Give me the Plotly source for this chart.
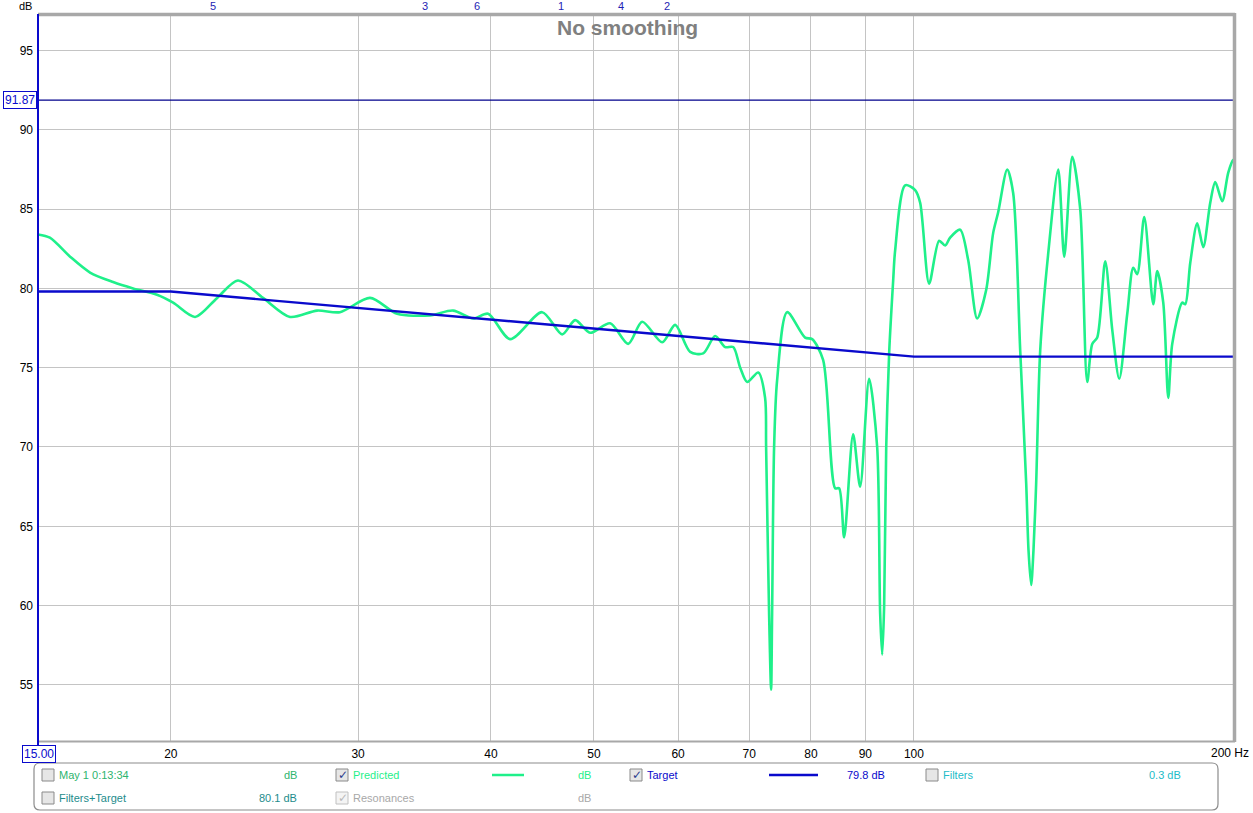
import math
import plotly.graph_objects as go

# ---------------- data ----------------
freq_hz = [15.0, 15.39, 16.08, 16.79, 17.65, 18.43, 19.41, 20.10, 21.08, 22.11, 23.13, 24.42,
           25.89, 27.45, 28.85, 30.79, 32.65, 35.06, 36.86, 38.49, 39.76, 41.70, 44.70, 46.68,
           48.01, 49.59, 51.79, 53.85, 55.51, 57.97, 59.62, 61.59, 63.35, 65.02, 66.44, 67.61,
           68.64, 69.69, 71.38, 72.44, 72.60, 73.07, 73.39, 73.55, 73.87, 74.35, 75.98, 79.0,
           80.21, 82.14, 84.31, 85.04, 85.97, 87.66, 89.0, 90.75, 92.34, 92.94, 93.35, 93.75,
           94.17, 94.78, 95.60, 96.01, 98.11, 100.26, 101.35, 103.34, 105.6, 106.99, 108.15,
           110.52, 112.45, 114.67, 116.93, 118.72, 120.01, 122.38, 123.98, 125.87, 127.52,
           128.16, 128.9, 129.55, 130.3, 131.45, 133.75, 136.68, 138.47, 140.89, 143.35,
           145.54, 147.13, 148.73, 151.33, 153.64, 155.99, 158.72, 160.79, 162.19, 164.67,
           167.91, 169.37, 171.59, 173.46, 174.96, 178.79, 179.96, 181.91, 184.69, 187.11,
           189.97, 192.04, 194.98, 197.53, 199.69, 200.0]
predicted_db = [83.4, 83.2, 82.0, 81.0, 80.4, 80.0, 79.6, 79.1, 78.2, 79.4, 80.5, 79.4,
                78.2, 78.6, 78.5, 79.4, 78.4, 78.3, 78.6, 78.1, 78.4, 76.8, 78.5, 77.1,
                78.0, 77.2, 77.8, 76.5, 77.9, 76.6, 77.7, 76.0, 75.9, 77.0, 76.3, 76.3,
                75.0, 74.1, 74.7, 73.1, 70.0, 59.5, 54.7, 59.5, 70.0, 74.2, 78.5, 76.9,
                76.8, 75.5, 67.4, 67.4, 64.3, 70.8, 67.5, 74.3, 70.0, 59.5, 56.9, 60.0,
                70.0, 76.0, 80.5, 82.4, 86.5, 86.2, 85.4, 80.3, 83.0, 82.7, 83.2,
                83.7, 81.8, 78.1, 79.9, 83.5, 84.8, 87.5, 86.0, 76.1, 67.7,
                63.5, 61.3, 63.5, 67.7, 76.1, 82.2, 87.5, 82.0, 88.3, 85.0,
                74.1, 76.5, 76.9, 81.7, 77.4, 74.3, 78.4, 81.3, 80.9, 84.5,
                79.0, 81.1, 79.1, 73.1, 76.5, 79.1, 79.0, 81.6, 84.1, 82.6,
                85.4, 86.7, 85.5, 87.3, 88.1, 88.1]
target_freq_hz = [15, 20, 100, 200]
target_db = [79.8, 79.8, 75.7, 75.7]
ref_level_db = 91.87
filter_freq_hz = [21.9, 34.7, 38.8, 46.6, 53.0, 58.6]
filter_labels = ["5", "3", "6", "1", "4", "2"]
x_tick_vals = [20, 30, 40, 50, 60, 70, 80, 90, 100]
y_tick_vals = [55, 60, 65, 70, 75, 80, 85, 90, 95]
x_range = [15, 200]
y_range = [51.4, 97.3]

# ---------------- layout helpers ----------------
W, H = 1253, 813
L, R, T, B = 38, 1234, 14, 742


def px(x):
    return (x - L) / (R - L)


def py(y):
    return (B - y) / (B - T)


GREEN = "#1FF08A"
BLUE = "#0A0ACC"
NAVY = "#00008B"
FONT = "Liberation Sans, Arial, sans-serif"

fig = go.Figure()
fig.add_trace(go.Scatter(x=freq_hz, y=predicted_db, mode="lines",
                         line=dict(color=GREEN, width=2.6, shape="spline", smoothing=0.8),
                         hoverinfo="skip", showlegend=False))
fig.add_trace(go.Scatter(x=target_freq_hz, y=target_db, mode="lines",
                         line=dict(color=BLUE, width=2.4), hoverinfo="skip", showlegend=False))
fig.add_trace(go.Scatter(x=x_range, y=[ref_level_db, ref_level_db], mode="lines",
                         line=dict(color=NAVY, width=1.2), hoverinfo="skip", showlegend=False))

shapes = []
annotations = []

# plot frame (gray shadow on top/right/bottom)
shapes.append(dict(type="line", xref="paper", yref="paper", x0=0, x1=px(R + 1), y0=py(14.5), y1=py(14.5),
                   line=dict(color="#A8A8A8", width=3.5), layer="above"))
shapes.append(dict(type="line", xref="paper", yref="paper", x0=px(R + 0.5), x1=px(R + 0.5), y0=py(742), y1=py(13),
                   line=dict(color="#A8A8A8", width=3.5), layer="above"))
shapes.append(dict(type="line", xref="paper", yref="paper", x0=0, x1=px(R + 1), y0=py(741.5), y1=py(741.5),
                   line=dict(color="#A8A8A8", width=2), layer="above"))
shapes.append(dict(type="line", xref="paper", yref="paper", x0=0, x1=0, y0=py(745), y1=py(14),
                   line=dict(color=BLUE, width=2), layer="above"))

# legend box with rounded corners
bx0, bx1, by0, by1, r = 34, 1218, 763, 810, 6
path = (f"M {px(bx0 + r)},{py(by0)} L {px(bx1 - r)},{py(by0)} Q {px(bx1)},{py(by0)} {px(bx1)},{py(by0 + r)} "
        f"L {px(bx1)},{py(by1 - r)} Q {px(bx1)},{py(by1)} {px(bx1 - r)},{py(by1)} "
        f"L {px(bx0 + r)},{py(by1)} Q {px(bx0)},{py(by1)} {px(bx0)},{py(by1 - r)} "
        f"L {px(bx0)},{py(by0 + r)} Q {px(bx0)},{py(by0)} {px(bx0 + r)},{py(by0)} Z")
shapes.append(dict(type="path", xref="paper", yref="paper", path=path,
                   line=dict(color="#8C8C8C", width=1.2), fillcolor="rgba(0,0,0,0)"))


def checkbox(x, y, checked=False, faded=False):
    shapes.append(dict(type="rect", xref="paper", yref="paper",
                       x0=px(x), x1=px(x + 12), y0=py(y + 6), y1=py(y - 6),
                       line=dict(color="#C0C0C0" if faded else "#8A8A8A", width=1),
                       fillcolor="#F4F4F4" if faded else "#E6E6E6"))
    if checked:
        annotations.append(dict(xref="paper", yref="paper", x=px(x + 6.5), y=py(y),
                                text="✓", showarrow=False, xanchor="center", yanchor="middle",
                                font=dict(size=12, color="#B8B8B8" if faded else "#2A3A8C",
                                          family="DejaVu Sans")))


def label(x, y, text, color, anchor="left", size=11):
    annotations.append(dict(xref="paper", yref="paper", x=px(x), y=py(y), text=text,
                            showarrow=False, xanchor=anchor, yanchor="middle", borderpad=0,
                            font=dict(size=size, color=color, family=FONT)))


ROW1, ROW2 = 775, 798
checkbox(42, ROW1)
label(58, ROW1, "May 1 0:13:34", "#2EB46E")
label(298, ROW1, "dB", "#2EB46E", "right")
checkbox(336, ROW1, checked=True)
label(352, ROW1, "Predicted", GREEN)
shapes.append(dict(type="line", xref="paper", yref="paper", x0=px(492), x1=px(524), y0=py(ROW1), y1=py(ROW1),
                   line=dict(color=GREEN, width=2.5)))
label(592, ROW1, "dB", GREEN, "right")
checkbox(630, ROW1, checked=True)
label(646, ROW1, "Target", BLUE)
shapes.append(dict(type="line", xref="paper", yref="paper", x0=px(769), x1=px(818), y0=py(ROW1), y1=py(ROW1),
                   line=dict(color=BLUE, width=2.5)))
label(886, ROW1, "79.8 dB", BLUE, "right")
checkbox(926, ROW1)
label(942, ROW1, "Filters", "#22BCC8")
label(1182, ROW1, "0.3 dB", "#22BCC8", "right")

checkbox(42, ROW2)
label(58, ROW2, "Filters+Target", "#1E8C8C")
label(298, ROW2, "80.1 dB", "#1E8C8C", "right")
checkbox(336, ROW2, checked=True, faded=True)
label(352, ROW2, "Resonances", "#A8A8A8")
label(592, ROW2, "dB", "#A8A8A8", "right")

# axis decorations
label(33, 6, "dB", "#000000", "right", 11)
annotations.append(dict(xref="paper", yref="paper", x=px(20), y=py(100), text="91.87", showarrow=False,
                        xanchor="center", yanchor="middle", bordercolor=BLUE, borderwidth=1, borderpad=1,
                        font=dict(size=12, color=BLUE, family=FONT)))
annotations.append(dict(xref="paper", yref="paper", x=px(39), y=py(754), text="15.00", showarrow=False,
                        xanchor="center", yanchor="middle", bordercolor=BLUE, borderwidth=1, borderpad=1,
                        bgcolor="white", font=dict(size=12, color=BLUE, family=FONT)))
label(1250, 753, "200 Hz", "#000000", "right", 12)

# filter markers on top
for f, t in zip(filter_freq_hz, filter_labels):
    annotations.append(dict(xref="x", yref="paper", x=math.log10(f), y=py(6), text=t, showarrow=False,
                            xanchor="center", yanchor="middle",
                            font=dict(size=11, color="#1E1EB4", family=FONT)))

# title
annotations.append(dict(xref="paper", yref="paper", x=px(627), y=py(27), text="<b>No smoothing</b>",
                        showarrow=False, xanchor="center", yanchor="middle",
                        font=dict(size=21, color="#808080", family=FONT)))

fig.update_layout(
    width=W, height=H, autosize=False,
    margin=dict(l=L, r=W - R, t=T, b=H - B, pad=0),
    paper_bgcolor="white", plot_bgcolor="white",
    shapes=shapes, annotations=annotations,
    xaxis=dict(type="log", range=[math.log10(x_range[0]), math.log10(x_range[1])],
               tickvals=x_tick_vals, ticktext=[str(v) for v in x_tick_vals],
               showgrid=True, gridcolor="#C4C4C4", gridwidth=1, zeroline=False, showline=False,
               ticks="", tickfont=dict(size=12, color="#000000", family=FONT), ticklabelstandoff=3,
               fixedrange=True),
    yaxis=dict(range=y_range, tickvals=y_tick_vals, ticktext=[str(v) for v in y_tick_vals],
               showgrid=True, gridcolor="#C4C4C4", gridwidth=1, zeroline=False, showline=False,
               ticks="", tickfont=dict(size=12, color="#000000", family=FONT), ticklabelstandoff=4,
               fixedrange=True),
    showlegend=False,
)

fig.write_html("out.html", config={"displayModeBar": False},
               post_script="document.body.style.margin='0';document.body.style.overflow='hidden';")
